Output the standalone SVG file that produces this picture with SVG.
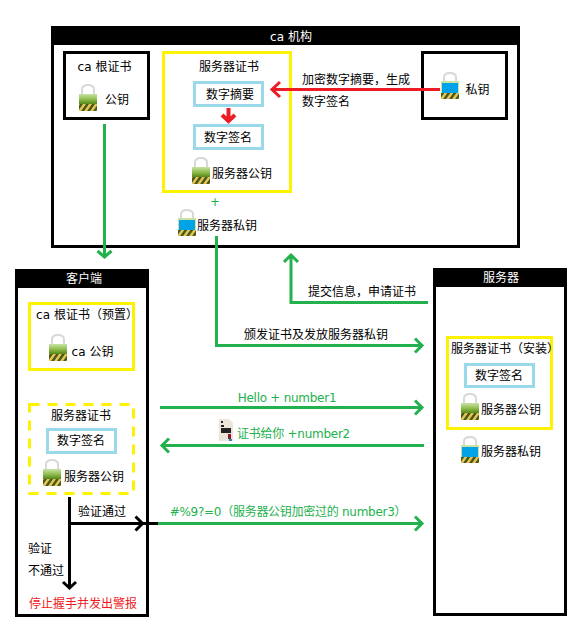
<svg xmlns="http://www.w3.org/2000/svg" width="582" height="637" viewBox="0 0 582 637">
<style>
text{font-family:"DejaVu Sans","Noto Sans CJK SC",sans-serif;font-size:12px;fill:#000;text-anchor:middle}
.h{fill:#fff}
.g{fill:#22b14c;letter-spacing:-.27px}
.r{fill:#ed1c24}
.frame{fill:#fff;stroke:#000;stroke-width:3}
.bar{fill:#000}
.y{fill:#fff;stroke:#fff200;stroke-width:3}
.yd{fill:#fff;stroke:#fff200;stroke-width:3;stroke-dasharray:10 8}
.b{fill:#fff;stroke:#99d9ea;stroke-width:3}
.k{fill:#fff;stroke:#000;stroke-width:3}
.cg{fill:none;stroke:#22b14c;stroke-width:3}
.cr{fill:none;stroke:#ed1c24;stroke-width:3}
.ck{fill:none;stroke:#000;stroke-width:3}
</style>
<defs>
<linearGradient id="gl" x1="0" y1="0" x2="0" y2="1"><stop offset="0" stop-color="#c9e3a5"/><stop offset="0.5" stop-color="#8dbb4a"/><stop offset="1" stop-color="#4a7a10"/></linearGradient>
<pattern id="st" width="6" height="7" patternUnits="userSpaceOnUse" patternTransform="skewX(-35)"><rect width="6" height="7" fill="#4b5a14"/><rect width="3" height="7" fill="#e3c35a"/></pattern>
<g id="lockG"><path d="M3 10V5.500Q3 1 9 1T15 5.500V10" fill="none" stroke="#d8d8d8" stroke-width="2"/><rect x="0" y="10" width="18" height="11" fill="url(#gl)"/><rect x="0" y="20" width="18" height="7" fill="url(#st)"/></g>
<g id="lockB"><path d="M3 10V5.500Q3 1 9 1T15 5.500V10" fill="none" stroke="#d8d8d8" stroke-width="2"/><rect x="0" y="9" width="18" height="18" fill="#c9e3a5"/><rect x="1" y="11" width="16" height="10" fill="#00a2e8"/><rect x="0" y="21" width="18" height="6" fill="url(#st)"/></g>
</defs>
<rect width="582" height="637" fill="#fff"/>

<g id="ca">
<rect class="frame" x="52.500" y="27.500" width="466" height="219"/>
<rect class="bar" x="51" y="26" width="469" height="19"/>
<text class="h" x="291" y="41">ca 机构</text>
</g>
<g id="ca-root">
<rect class="k" x="64.500" y="52.500" width="84" height="66"/>
<text x="104.500" y="71">ca 根证书</text>
<use href="#lockG" x="79" y="84"/>
<text x="117" y="104">公钥</text>
</g>
<g id="ca-cert">
<rect class="y" x="163.500" y="52.500" width="127" height="139"/>
<text x="229" y="71">服务器证书</text>
<use href="#lockG" x="192" y="157"/>
<text x="242" y="178">服务器公钥</text>
</g>
<g id="digest"><rect class="b" x="194.500" y="82.500" width="68" height="23"/><text x="230" y="99">数字摘要</text></g>
<g id="signature"><rect class="b" x="194.500" y="125.500" width="68" height="23"/><text x="228" y="142">数字签名</text></g>
<g id="ca-private">
<rect class="k" x="422.500" y="52.500" width="84" height="66"/>
<use href="#lockB" x="441" y="72"/>
<text x="477.500" y="94">私钥</text>
</g>
<g id="server-key">
<text class="g" x="215" y="206">+</text>
<use href="#lockB" x="178" y="209"/>
<text x="227" y="230">服务器私钥</text>
</g>

<g id="client">
<rect class="frame" x="16.500" y="270.500" width="131" height="345"/>
<rect class="bar" x="15" y="269" width="134" height="19"/>
<text class="h" x="84" y="283">客户端</text>
</g>
<g id="client-root">
<rect class="y" x="29.500" y="303.500" width="104" height="66"/>
<text x="87" y="319">ca 根证书（预置）</text>
<use href="#lockG" x="49" y="334"/>
<text x="92.500" y="356">ca 公钥</text>
</g>
<g id="client-cert">
<rect class="yd" x="29.500" y="404.500" width="104" height="89"/>
<text x="81" y="420">服务器证书</text>
<rect class="b" x="47.500" y="429.500" width="68" height="23"/>
<text x="81" y="445">数字签名</text>
<use href="#lockG" x="43" y="459"/>
<text x="94" y="481">服务器公钥</text>
</g>
<g id="server">
<rect class="frame" x="434.500" y="269.500" width="131" height="345"/>
<rect class="bar" x="433" y="268" width="134" height="19"/>
<text class="h" x="501" y="282">服务器</text>
</g>
<g id="server-cert">
<rect class="y" x="447.500" y="337.500" width="104" height="91"/>
<text x="505" y="353">服务器证书（安装）</text>
<rect class="b" x="465.500" y="364.500" width="68" height="22"/>
<text x="499" y="380">数字签名</text>
<use href="#lockG" x="461" y="393"/>
<text x="511" y="414">服务器公钥</text>
</g>
<g id="server-private">
<use href="#lockB" x="461" y="436"/>
<text x="511" y="456">服务器私钥</text>
</g>
<g id="cert-icon">
<path d="M219 419H229L233 423V441H219Z" fill="#ebe4d8"/>
<rect x="221" y="421" width="2" height="2" fill="#222"/>
<rect x="221" y="425" width="3" height="2" fill="#222"/>
<rect x="221" y="428" width="10" height="5" fill="#222"/>
<rect x="228" y="434" width="3" height="5" fill="#8b1a2b"/>
<rect x="229" y="439" width="3" height="2" fill="#1a8fc0"/>
</g>

<g id="connectors">
<path class="cg" d="M104.500 124V257M97.500 251L104.500 257L111.500 251"/>
<path class="cg" d="M216.500 236V345.500H422M415 338.500L422 345.500L415 352.500"/>
<path class="cg" d="M428 302.500H291V255M284 262L291 255L298 262"/>
<path class="cr" d="M440 89.500H272M280 82L272 89.500L280 97"/>
<path class="cr" style="stroke-width:4" d="M228.500 108V121M222 115L228.500 121L235 115"/>
<path class="cg" d="M160 407.500H422M415 400.500L422 407.500L415 414.500"/>
<path class="cg" d="M424 445.500H162M169 438.500L162 445.500L169 452.500"/>
<path class="cg" d="M158 523.500H422M415 516.500L422 523.500L415 530.500"/>
<path class="ck" d="M69.500 497V588M63 582L69.500 588L76 582"/>
<path class="ck" d="M70 523.500H158M135.500 516.500L142.500 523.500L135.500 530.500"/>
</g>

<g id="labels">
<text x="356" y="84">加密数字摘要，生成</text>
<text x="326" y="106">数字签名</text>
<text x="362" y="296">提交信息，申请证书</text>
<text x="316" y="339">颁发证书及发放服务器私钥</text>
<text class="g" x="287" y="402">Hello + number1</text>
<text class="g" x="293.500" y="438">证书给你 +number2</text>
<text class="g" x="288" y="516">#%9?=0（服务器公钥加密过的 number3）</text>
<text x="102" y="516">验证通过</text>
<text x="40" y="553">验证</text>
<text x="46" y="575">不通过</text>
<text class="r" x="83" y="608">停止握手并发出警报</text>
</g>
</svg>
